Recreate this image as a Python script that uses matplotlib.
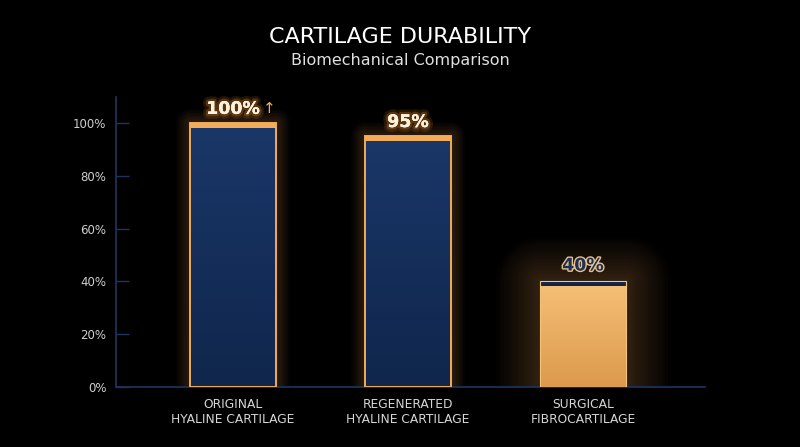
import numpy as np
import matplotlib.pyplot as plt
import matplotlib.patheffects as pe
from matplotlib.colors import LinearSegmentedColormap

categories = ["ORIGINAL\nHYALINE CARTILAGE", "REGENERATED\nHYALINE CARTILAGE", "SURGICAL\nFIBROCARTILAGE"]
values = [100, 95, 40]
value_labels = ["100%", "95%", "40%"]
yticks = [0, 20, 40, 60, 80, 100]
ytick_labels = ["0%", "20%", "40%", "60%", "80%", "100%"]

bg = "#000000"
navy_dark = "#10244a"
orange = "#f2ac5a"
axis_col = "#1d3560"

plt.rcParams['font.family'] = ['DejaVu Sans']

fig = plt.figure(figsize=(8, 4.47), dpi=100, facecolor=bg)
ax = fig.add_axes([0.145, 0.135, 0.736, 0.648])
ax.set_facecolor(bg)

x = np.arange(len(values))
width = 0.49
ax.set_xlim(-0.669, 2.697)
ax.set_ylim(0, 110)

blue_cmap = LinearSegmentedColormap.from_list("b", ["#10264c", "#1a3768"])
gold_cmap = LinearSegmentedColormap.from_list("g", ["#dc9a4c", "#f6c077"])

for i, v in enumerate(values):
    left = x[i] - width / 2
    surgical = i == 2
    # soft glow around each bar
    n = 16 if surgical else 9
    for k in range(n, 0, -1):
        ax.bar(x[i], v, width, facecolor="none", edgecolor=orange,
               linewidth=k * (4.0 if surgical else 2.2), alpha=0.014 if surgical else 0.025,
               zorder=1, joinstyle="round")
    base = ax.bar(x[i], v, width, color=bg, edgecolor="none", zorder=2)[0]
    grad = np.linspace(0, 1, 100).reshape(-1, 1)
    im = ax.imshow(grad, cmap=gold_cmap if surgical else blue_cmap, aspect="auto",
                   origin="lower", extent=[left, left + width, 0, v], zorder=3)
    im.set_clip_path(base)
    cap_h = 1.8
    ax.bar(x[i], cap_h, width, bottom=v - cap_h,
           color=navy_dark if surgical else orange, edgecolor="none", zorder=4)
    if not surgical:
        ax.bar(x[i], v, width, facecolor="none", edgecolor=orange, linewidth=1.4, zorder=5)
    else:
        ax.bar(x[i], v, width, facecolor="none", edgecolor="#f7c27a", linewidth=0.8, zorder=5)

    if surgical:
        ax.text(x[i], v + 6, value_labels[i], ha="center", va="center", fontsize=12.5,
                fontweight="bold", color="#1c2f55", zorder=6,
                path_effects=[pe.withStroke(linewidth=2.0, foreground="#e8c08a")])
    else:
        ax.text(x[i], v + 5.5, value_labels[i], ha="center", va="center", fontsize=12.5,
                fontweight="bold", color="#fff2dc", zorder=6,
                path_effects=[pe.withStroke(linewidth=7, foreground="#c07020", alpha=0.18),
                              pe.withStroke(linewidth=3.5, foreground="#d08030", alpha=0.3),
                              pe.Normal()])
        if i == 0:
            ax.text(x[i] + 0.205, v + 5.7, "\u2191", ha="center", va="center", fontsize=11,
                    color=orange, zorder=6)

for s in ["top", "right"]:
    ax.spines[s].set_visible(False)
for s in ["left", "bottom"]:
    ax.spines[s].set_color(axis_col)
    ax.spines[s].set_linewidth(1.2)

ax.set_yticks(yticks)
ax.set_yticklabels(ytick_labels)
ax.tick_params(axis="y", direction="in", length=9, width=1, color=axis_col,
               labelcolor="#cfcfcf", labelsize=8.5, pad=7)
ax.set_xticks(x)
ax.set_xticklabels(categories)
ax.tick_params(axis="x", length=0, labelcolor="#d6d6d6", labelsize=8.8, pad=8)
for lbl in ax.get_xticklabels():
    lbl.set_linespacing(1.25)

fig.text(0.5, 0.917, "CARTILAGE DURABILITY", ha="center", va="center",
         fontsize=16, color="white")
fig.text(0.5, 0.865, "Biomechanical Comparison", ha="center", va="center",
         fontsize=11.5, color="#e0e0e0")

fig.savefig("out.png", dpi=100, facecolor=bg)
